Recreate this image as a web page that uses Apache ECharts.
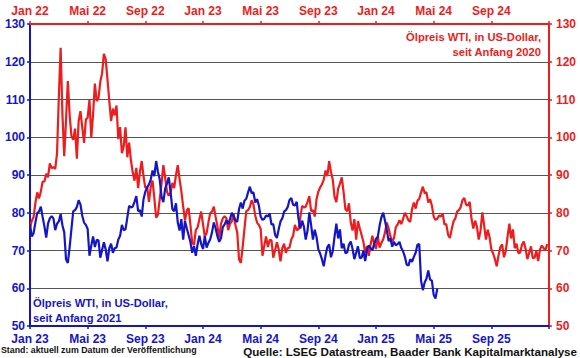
<!DOCTYPE html>
<html>
<head>
<meta charset="utf-8">
<script src="https://cdn.jsdelivr.net/npm/echarts@6/dist/echarts.min.js"></script>
<style>
html,body{margin:0;padding:0;background:#fff;}
#chart{width:580px;height:358px;}
</style>
</head>
<body>
<div id="chart"></div>
<script>
// WTI oil price (USD), 8 samples per month
const wti2022 = [
  76.1, 77.9, 78.9, 82.6, 85.4, 83.8, 85.6, 88.2,
  88.3, 90.3, 89.4, 93.1, 91.8, 92.1, 91.6, 95.7,
  110.6, 123.7, 106.0, 95.0, 104.7, 114.9, 105.9, 100.3,
  99.3, 102.3, 94.3, 104.3, 106.9, 102.6, 98.5, 104.7,
  105.2, 110.0, 99.8, 106.1, 114.2, 109.6, 110.3, 114.7,
  116.9, 122.1, 120.7, 115.3, 109.6, 104.3, 107.6, 105.8,
  108.4, 99.5, 102.7, 95.8, 97.6, 102.6, 94.7, 98.6,
  93.9, 90.7, 88.5, 91.9, 86.5, 90.8, 93.7, 89.6,
  86.6, 86.9, 82.9, 86.8, 88.5, 83.9, 78.7, 79.5,
  83.6, 87.8, 92.6, 89.4, 85.6, 84.5, 85.3, 87.9,
  86.5, 90.0, 92.6, 88.9, 85.6, 81.6, 77.9, 80.6,
  81.2, 76.9, 72.0, 71.5, 75.4, 76.1, 78.3, 80.3
];
const wti2023 = [
  76.9, 73.7, 74.6, 77.4, 79.9, 80.3, 81.6, 78.9,
  76.4, 73.4, 77.1, 78.5, 79.1, 78.5, 75.4, 77.1,
  77.7, 79.7, 76.7, 74.8, 67.6, 66.7, 70.9, 75.7,
  80.4, 80.7, 81.5, 83.3, 82.2, 79.2, 77.4, 76.8,
  75.7, 68.6, 71.3, 73.7, 70.9, 72.8, 72.7, 68.1,
  70.1, 72.2, 70.3, 67.1, 70.6, 71.8, 69.4, 70.6,
  70.8, 72.9, 73.9, 76.8, 75.4, 75.6, 78.7, 81.8,
  81.4, 81.6, 82.9, 84.4, 80.4, 80.7, 79.0, 83.6,
  85.6, 86.7, 87.5, 88.8, 91.2, 89.7, 93.7, 90.8,
  88.8, 84.2, 82.8, 86.4, 87.7, 89.4, 85.5, 81.0,
  80.4, 82.5, 77.4, 75.3, 78.3, 72.9, 77.8, 75.9,
  74.1, 72.3, 69.4, 71.2, 68.6, 71.6, 73.9, 71.7
];
const wti2024 = [
  70.4, 73.8, 70.8, 72.0, 73.0, 74.8, 77.4, 75.9,
  73.8, 72.3, 73.3, 76.2, 76.9, 78.0, 77.0, 78.3,
  80.0, 79.1, 78.0, 77.6, 81.0, 82.7, 81.1, 83.2,
  83.7, 85.4, 86.9, 85.2, 85.4, 82.7, 83.6, 81.9,
  79.0, 78.1, 78.4, 79.3, 79.0, 79.8, 76.9, 77.0,
  74.2, 73.3, 75.6, 77.7, 78.5, 80.3, 80.7, 81.5,
  83.4, 83.9, 82.1, 81.9, 82.9, 78.4, 75.8, 77.9,
  76.3, 72.9, 75.2, 80.1, 76.7, 72.9, 75.5, 73.6,
  70.3, 69.2, 67.7, 65.8, 68.7, 70.9, 71.6, 68.2,
  69.8, 73.7, 77.1, 73.2, 75.6, 70.6, 71.8, 69.3,
  69.5, 71.5, 72.4, 70.4, 67.7, 69.4, 71.1, 68.0,
  68.1, 69.9, 67.2, 70.3, 71.3, 70.6, 70.1, 71.7
];
const wti2025 = [
  73.1, 73.6, 76.6, 78.8, 80.0, 77.9, 75.4, 72.5,
  73.2, 71.0, 72.3, 71.4, 71.7, 72.3, 70.7, 69.8,
  68.4, 66.3, 66.0, 67.7, 67.0, 68.3, 69.4, 71.5,
  71.7, 62.0, 59.5, 61.5, 62.5, 64.7, 62.3, 62.0,
  58.3, 57.3, 59.9
];
const bottomTicks = ['Jan 23','Mai 23','Sep 23','Jan 24','Mai 24','Sep 24','Jan 25','Mai 25','Sep 25'];
const topTicks = ['Jan 22','Mai 22','Sep 22','Jan 23','Mai 23','Sep 23','Jan 24','Mai 24','Sep 24'];
const yTicks = [50, 60, 70, 80, 90, 100, 110, 120, 130];

const RED = '#ee1c1c';
const BLUE = '#1515c8';
const FONT = '"Liberation Sans", Arial, sans-serif';
const perMonth = 8;

const redSeries = wti2022.concat(wti2023, wti2024).map((v, i) => [i / perMonth, v]);
const blueSeries = wti2023.concat(wti2024, wti2025).map((v, i) => [i / perMonth, v]);

function xAxisCfg(pos, color, labels) {
  return {
    type: 'value', position: pos, min: 0, max: 36, interval: 4,
    axisLine: { show: true, onZero: false, lineStyle: { color: color, width: 2 } },
    axisTick: { show: true, inside: false, length: 3, lineStyle: { color: color, width: 1.5 } },
    splitLine: { show: false },
    axisLabel: {
      color: color, fontWeight: 'bold', fontSize: 12, lineHeight: 12, fontFamily: FONT, margin: 7,
      formatter: v => labels[Math.round(v / 4)] || ''
    }
  };
}
function yAxisCfg(pos, color, grid) {
  return {
    type: 'value', position: pos, min: yTicks[0], max: yTicks[yTicks.length - 1], interval: 10,
    axisLine: { show: true, onZero: false, lineStyle: { color: color, width: 2 } },
    axisTick: { show: true, length: 3, lineStyle: { color: color, width: 1.5 } },
    splitLine: { show: grid, lineStyle: { color: '#555', width: 1 } },
    axisLabel: { color: color, fontWeight: 'bold', fontSize: 12, lineHeight: 11, fontFamily: FONT, margin: pos === 'left' ? 5 : 7 }
  };
}

const chart = echarts.init(document.getElementById('chart'), null, { renderer: 'svg' });
chart.setOption({
  animation: false,
  backgroundColor: '#fff',
  grid: { left: 30, right: 31, top: 24, bottom: 32, containLabel: false },
  xAxis: [xAxisCfg('bottom', BLUE, bottomTicks), xAxisCfg('top', RED, topTicks)],
  yAxis: [yAxisCfg('left', BLUE, true), yAxisCfg('right', RED, false)],
  series: [
    { type: 'line', name: 'rot', xAxisIndex: 1, yAxisIndex: 1, data: redSeries, symbol: 'none',
      lineStyle: { color: RED, width: 2.2 }, z: 3 },
    { type: 'line', name: 'blau', xAxisIndex: 0, yAxisIndex: 0, data: blueSeries, symbol: 'none',
      lineStyle: { color: BLUE, width: 2.2 }, z: 4 }
  ],
  graphic: [
    { type: 'text', right: 39, top: 29,
      style: { text: 'Ölpreis WTI, in US-Dollar,\nseit Anfang 2020', fill: RED, font: 'bold 11.2px ' + FONT, textAlign: 'right', lineHeight: 15 } },
    { type: 'text', left: 33, top: 295,
      style: { text: 'Ölpreis WTI, in US-Dollar,\nseit Anfang 2021', fill: BLUE, font: 'bold 11.2px ' + FONT, textAlign: 'left', lineHeight: 15 } },
    { type: 'text', left: 1, top: 345,
      style: { text: 'Stand: aktuell zum Datum der Veröffentlichung', fill: '#111', font: 'bold 8.8px ' + FONT } },
    { type: 'text', right: 3, top: 345,
      style: { text: 'Quelle: LSEG Datastream, Baader Bank Kapitalmarktanalyse', fill: '#111', font: 'bold 11.6px ' + FONT } }
  ]
});
</script>
</body>
</html>
